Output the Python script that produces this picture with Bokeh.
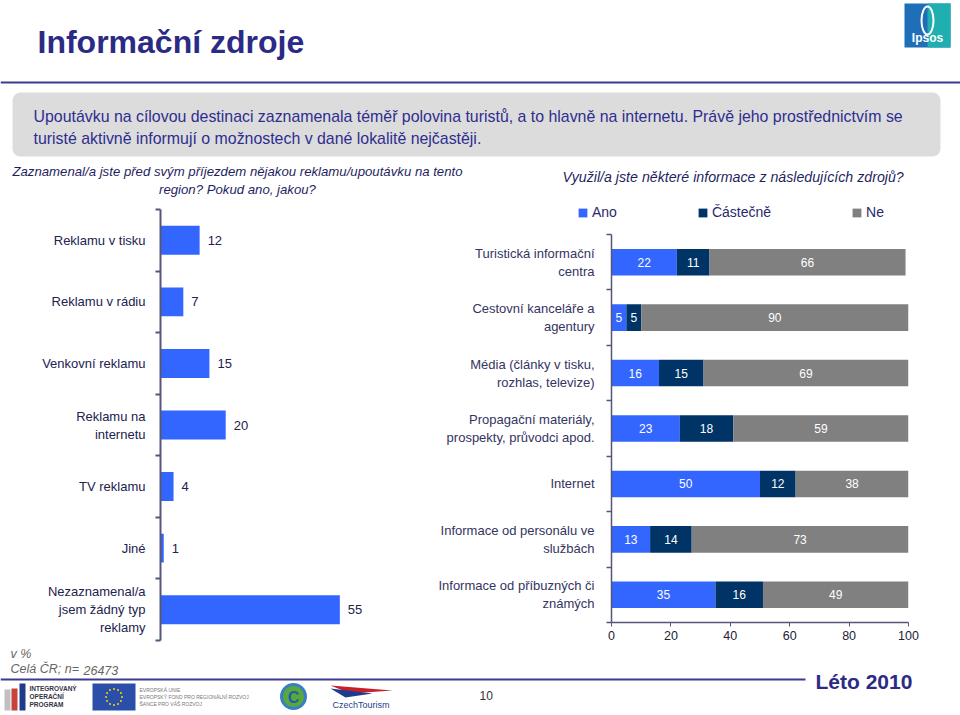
from bokeh.plotting import figure
from bokeh.models import Range1d, FixedTicker, ColumnDataSource, Legend, LegendItem
from bokeh.layouts import column, row
from bokeh.embed import file_html
from bokeh.resources import INLINE
from bokeh.core.properties import value
import numpy as np

# ---------------- data ----------------
left_categories = ["Reklamu v tisku", "Reklamu v rádiu", "Venkovní reklamu",
                   "Reklamu na\ninternetu", "TV reklamu", "Jiné",
                   "Nezaznamenal/a\njsem žádný typ\nreklamy"]
left_values = [12, 7, 15, 20, 4, 1, 55]

right_categories = ["Turistická informační\ncentra",
                    "Cestovní kanceláře a\nagentury",
                    "Média (články v tisku,\nrozhlas, televize)",
                    "Propagační materiály,\nprospekty, průvodci apod.",
                    "Internet",
                    "Informace od personálu ve\nslužbách",
                    "Informace od příbuzných či\nznámých"]
ano = [22, 5, 16, 23, 50, 13, 35]
castecne = [11, 5, 15, 18, 12, 14, 16]
ne = [66, 90, 69, 59, 38, 73, 49]
series_names = ["Ano", "Částečně", "Ne"]
x_ticks = [0, 20, 40, 60, 80, 100]

# ---------------- styles ----------------
SANS = "Liberation Sans"
NAVY = "#2B2B85"
LABEL = "#22224F"
C_ANO, C_CAST, C_NE = "#3366FF", "#003366", "#808080"
SERIES_COLORS = [C_ANO, C_CAST, C_NE]
AXIS = "#56567A"


def canvas(w, y0, y1):
    p = figure(width=w, height=y1 - y0, x_range=Range1d(0, w), y_range=Range1d(y1, y0),
               output_backend="svg", toolbar_location=None, min_border=0,
               x_axis_location=None, y_axis_location=None)
    p.outline_line_color = None
    p.xgrid.visible = False
    p.ygrid.visible = False
    p.background_fill_color = "white"
    p.border_fill_color = "white"
    p.frame_align = False
    return p


def txt(p, x, y, s, size, color, font=SANS, style="normal", align="left"):
    p.text(x=[x], y=[y], text=[s], text_font=value(font), text_font_size=size,
           text_font_style=style, text_color=color, text_align=align, text_baseline="middle")


# ---------------- header ----------------
H0, H1 = 0, 200
hdr = canvas(960, H0, H1)
txt(hdr, 37, 41, "Informační zdroje", "32px", NAVY, SANS, "bold")
# Ipsos logo
hdr.quad(left=[904], right=[950], top=[3], bottom=[47], fill_color="#1F6FB8", line_color=None)
hdr.quad(left=[927], right=[950], top=[3], bottom=[47], fill_color="#1FAFB0", line_color=None)
hdr.ellipse(x=[927], y=[20], width=[12], height=[28], fill_color=None, line_color="white", line_width=2)
txt(hdr, 927, 37, "Ipsos", "12px", "white", SANS, "bold", "center")
# rule line
hdr.line(x=[0, 960], y=[82, 82], line_color="#3B3B8F", line_width=2)
# grey box
hdr.quad(left=[12], right=[940], top=[92], bottom=[156], fill_color="#DCDCDC",
         line_color=None, border_radius=8)
txt(hdr, 33, 116, "Upoutávku na cílovou destinaci zaznamenala téměř polovina turistů, a to hlavně na internetu. "
                  "Právě jeho prostřednictvím se", "15.9px", "#2E2E8E", SANS)
txt(hdr, 33, 138, "turisté aktivně informují o možnostech v dané lokalitě nejčastěji.", "15.9px", "#2E2E8E", SANS)
# questions
txt(hdr, 237, 171, "Zaznamenal/a jste před svým příjezdem nějakou reklamu/upoutávku na tento",
    "13.2px", "#1F1F5F", SANS, "italic", "center")
txt(hdr, 237, 189, "region? Pokud ano, jakou?", "13.2px", "#1F1F5F", SANS, "italic", "center")
txt(hdr, 562, 176, "Využil/a jste některé informace z následujících zdrojů?", "14.2px", "#1F1F5F", SANS, "italic")

# ---------------- left chart ----------------
M0, M1 = 200, 645
n_left = len(left_categories)
lpos = list(range(1, n_left + 1))
lsrc = ColumnDataSource(dict(pos=lpos, val=left_values, lab=[str(v) for v in left_values]))
lp = figure(width=430, height=M1 - M0, x_range=Range1d(0, 82.8), y_range=Range1d(n_left + 0.5, 0.5),
            output_backend="svg", toolbar_location=None, x_axis_location=None,
            min_border_left=160, min_border_right=0, min_border_top=9, min_border_bottom=5)
lp.frame_align = False
lp.outline_line_color = None
lp.grid.visible = False
lp.hbar(y="pos", right="val", left=0, height=0.47, source=lsrc, fill_color=C_ANO, line_color=None)
lp.text(x="val", y="pos", text="lab", source=lsrc, x_offset=8, text_font=value(SANS),
        text_font_size="13px", text_color=LABEL, text_baseline="middle", text_align="left")
ya = lp.yaxis[0]
ya.ticker = FixedTicker(ticks=lpos, minor_ticks=[i + 0.5 for i in range(0, n_left + 1)])
ya.major_label_overrides = {p_: c for p_, c in zip(lpos, left_categories)}
ya.major_tick_line_color = None
ya.major_tick_out = 0
ya.major_tick_in = 0
ya.minor_tick_out = 5
ya.minor_tick_in = 0
ya.minor_tick_line_color = AXIS
ya.minor_tick_line_width = 2
ya.axis_line_color = AXIS
ya.axis_line_width = 2
ya.major_label_standoff = 10
ya.major_label_text_font = SANS
ya.major_label_text_font_size = "13px"
ya.major_label_text_color = LABEL

# ---------------- right chart ----------------
L1 = 222  # legend strip height ends here
n_right = len(right_categories)
rpos = list(range(1, n_right + 1))
stack = np.array([ano, castecne, ne], dtype=float)
starts = np.vstack([np.zeros(n_right), np.cumsum(stack, axis=0)[:-1]])
centers = starts + stack / 2
rsrc = ColumnDataSource(dict(pos=rpos, ano=ano, cast=castecne, ne=ne))
rp = figure(width=530, height=M1 - L1, x_range=Range1d(0, 100), y_range=Range1d(n_right + 0.5, 0.5),
            output_backend="svg", toolbar_location=None,
            min_border_left=181, min_border_right=52, min_border_top=12, min_border_bottom=23)
rp.frame_align = False
rp.outline_line_color = None
rp.grid.visible = False
rends = rp.hbar_stack(["ano", "cast", "ne"], y="pos", height=0.48, source=rsrc,
                      fill_color=SERIES_COLORS, line_color=None)
lab_x, lab_y, lab_t = [], [], []
for k, ser in enumerate([ano, castecne, ne]):
    for i, v in enumerate(ser):
        lab_x.append(centers[k, i])
        lab_y.append(rpos[i])
        lab_t.append(str(v))
rp.text(x=lab_x, y=lab_y, text=lab_t, text_font=value(SANS), text_font_size="12px",
        text_color="white", text_align="center", text_baseline="middle")
ry = rp.yaxis[0]
ry.ticker = FixedTicker(ticks=rpos, minor_ticks=[i + 0.5 for i in range(0, n_right + 1)])
ry.major_label_overrides = {p_: c for p_, c in zip(rpos, right_categories)}
ry.major_tick_line_color = None
ry.major_tick_out = 0
ry.major_tick_in = 0
ry.minor_tick_out = 5
ry.minor_tick_in = 0
ry.minor_tick_line_color = AXIS
ry.minor_tick_line_width = 1.5
ry.axis_line_color = AXIS
ry.axis_line_width = 1.5
ry.major_label_standoff = 12
ry.major_label_text_font = SANS
ry.major_label_text_font_size = "13px"
ry.major_label_text_color = "#34345F"
rx = rp.xaxis[0]
rx.ticker = FixedTicker(ticks=x_ticks)
rx.minor_tick_line_color = None
rx.major_tick_out = 4
rx.major_tick_in = 0
rx.major_tick_line_color = AXIS
rx.axis_line_color = AXIS
rx.axis_line_width = 1.5
rx.major_label_standoff = 4
rx.major_label_text_font = SANS
rx.major_label_text_font_size = "12.5px"
rx.major_label_text_color = "#222233"

# legend strip above the right chart (proxy area glyphs placed outside the visible strip)
lg = canvas(530, M0, L1)
leg_rends = [lg.quad(left=[-100], right=[-99], top=[-100], bottom=[-99], fill_color=c, line_color=None)
             for c in SERIES_COLORS]
legend = Legend(items=[LegendItem(label=nm, renderers=[r]) for nm, r in zip(series_names, leg_rends)],
                orientation="horizontal", location=(147, 2), spacing=80,
                glyph_width=11, glyph_height=11, label_standoff=4, padding=0, margin=0,
                border_line_color=None, background_fill_alpha=0,
                label_text_font=SANS, label_text_font_size="14px", label_text_color="#2A2A6A")
lg.add_layout(legend)

# ---------------- footer ----------------
F0, F1 = M1, 715
ft = canvas(960, F0, F1)
txt(ft, 10, 653, "v %", "12.5px", "#666666", SANS, "italic")
txt(ft, 10, 668, "Celá ČR; n=", "12.5px", "#666666", SANS, "italic")
txt(ft, 83, 670, "26473", "12.5px", "#666666", SANS, "italic")
ft.line(x=[0, 805], y=[679, 679], line_color="#3B3B8F", line_width=2)
# IOP logo
ft.quad(left=[4, 11, 19], right=[10, 17, 25], top=[689, 688, 683], bottom=[710, 710, 710],
        fill_color=["#C0C0C0", "#C8413A", "#1F3C8C"], line_color=None)
for yy, s in zip([688, 696, 704], ["INTEGROVANÝ", "OPERAČNÍ", "PROGRAM"]):
    txt(ft, 29, yy, s, "6.5px", "#333344", SANS, "bold")
# EU flag
ft.quad(left=[92], right=[135], top=[683], bottom=[710], fill_color="#2B4FA8", line_color=None)
ang = np.linspace(0, 2 * np.pi, 13)[:-1]
ft.scatter(x=113.5 + 8 * np.cos(ang), y=696.5 + 8 * np.sin(ang), size=2, fill_color="#F5D50A", line_color=None)
for yy, s in zip([689, 696, 703], ["EVROPSKÁ UNIE", "EVROPSKÝ FOND PRO REGIONÁLNÍ ROZVOJ", "ŠANCE PRO VÁŠ ROZVOJ"]):
    txt(ft, 139, yy, s, "5px", "#777777", SANS)
# ministry logo
ft.scatter(x=[293], y=[696], size=24, fill_color="#5AA83C", line_color="#3A7FC0", line_width=3)
txt(ft, 293, 697, "C", "16px", "#1F5FA8", SANS, "bold", "center")
# CzechTourism logo
ft.patch(x=[330, 392, 350], y=[685, 690, 693], fill_color="#C8202A", line_color=None)
ft.patch(x=[330, 372, 345], y=[688, 693, 697], fill_color="#1F3C8C", line_color=None)
txt(ft, 332, 704, "CzechTourism", "9px", "#1F3C8C", SANS)
# page number and season
txt(ft, 479, 695, "10", "12px", "#333333", SANS)
txt(ft, 815, 681, "Léto 2010", "21px", NAVY, SANS, "bold")

layout = column(hdr, row(lp, column(lg, rp, spacing=0), spacing=0), ft, spacing=0)
open("out.html", "w").write(file_html(layout, INLINE))
